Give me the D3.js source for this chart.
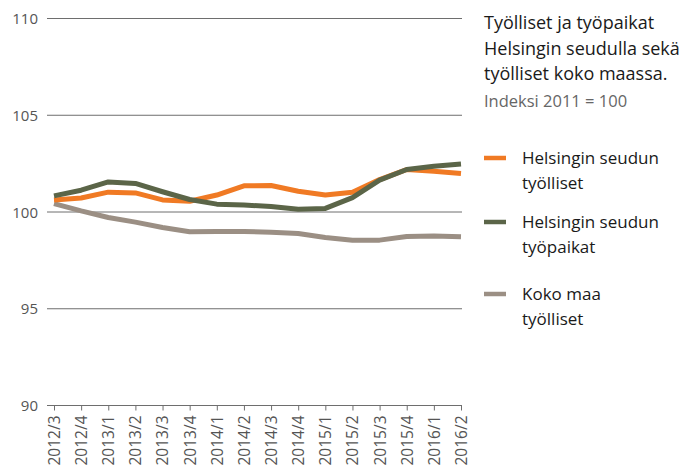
<!DOCTYPE html>
<html>
<head>
<meta charset="utf-8">
<script src="https://cdn.jsdelivr.net/npm/d3@7"></script>
<style>
  body { margin: 0; background: #fff; }
  svg text { font-family: "Open Sans", "Noto Sans", sans-serif; }
</style>
</head>
<body>
<div id="chart"></div>
<script>
// Data
var quarters = ["2012/3", "2012/4", "2013/1", "2013/2", "2013/3", "2013/4",
  "2014/1", "2014/2", "2014/3", "2014/4", "2015/1", "2015/2", "2015/3", "2015/4",
  "2016/1", "2016/2"];

var helsinkiEmployed = [100.6, 100.7, 101.0, 100.96, 100.6, 100.53, 100.85, 101.33,
  101.34, 101.05, 100.85, 101.0, 101.65, 102.17, 102.08, 101.96];
var helsinkiJobs = [100.81, 101.1, 101.53, 101.45, 101.02, 100.62, 100.38, 100.33,
  100.26, 100.12, 100.16, 100.72, 101.62, 102.17, 102.34, 102.45];
var wholeCountryEmployed = [100.41, 100.03, 99.69, 99.45, 99.17, 98.95, 98.97, 98.97,
  98.93, 98.86, 98.66, 98.52, 98.52, 98.71, 98.74, 98.69];

var yTicks = [90, 95, 100, 105, 110];

var seriesNames = [["Helsingin seudun", "työlliset"], ["Helsingin seudun", "työpaikat"], ["Koko maa", "työlliset"]];
var seriesColors = ["#f07a24", "#5b6548", "#9b8f84"];

var svgWidth = 680;
var svgHeight = 468;

var svg = d3.select("#chart")
  .append("svg")
  .attr("width", svgWidth)
  .attr("height", svgHeight);

// Scales
var xScale = d3.scalePoint()
  .domain(quarters)
  .range([54, 461]);

var yScale = d3.scaleLinear()
  .domain([90, 110])
  .range([405, 18]);

// Gridlines
svg.append("g")
  .selectAll("line")
  .data(yTicks)
  .enter()
  .append("line")
  .attr("x1", 47)
  .attr("x2", 462)
  .attr("y1", d => yScale(d) + 0.5)
  .attr("y2", d => yScale(d) + 0.5)
  .attr("stroke", "#6e6e6e")
  .attr("stroke-width", 1);

// Y labels
svg.append("g")
  .selectAll("text")
  .data(yTicks)
  .enter()
  .append("text")
  .attr("x", 38)
  .attr("y", d => yScale(d) + 6)
  .attr("text-anchor", "end")
  .attr("font-size", 15)
  .attr("fill", "#555")
  .text(d => d);

// X axis
var bottomAxis = d3.axisBottom(xScale).tickSize(5).tickPadding(4);
var xAxis = svg.append("g")
  .attr("transform", `translate(0, ${yScale(90) + 0.5})`)
  .call(bottomAxis);
xAxis.select(".domain").remove();
xAxis.selectAll("line").attr("stroke", "#6e6e6e");
xAxis.selectAll("text")
  .attr("font-size", 15.5)
  .attr("fill", "#555")
  .attr("transform", "rotate(-90)")
  .attr("text-anchor", "end")
  .attr("x", -10)
  .attr("y", 0)
  .attr("dy", "0.35em");

// Lines
var allSeries = [helsinkiEmployed, helsinkiJobs, wholeCountryEmployed];
var line = d3.line()
  .x((d, i) => xScale(quarters[i]))
  .y(d => yScale(d));

// gray first, then orange, green on top
[2, 0, 1].forEach(function(k) {
  svg.append("path")
    .datum(allSeries[k])
    .attr("d", line)
    .attr("fill", "none")
    .attr("stroke", seriesColors[k])
    .attr("stroke-width", 5)
    .attr("stroke-linejoin", "round");
});

// Title
var titleLines = ["Työlliset ja työpaikat", "Helsingin seudulla sekä", "työlliset koko maassa."];
svg.append("g")
  .selectAll("text")
  .data(titleLines)
  .enter()
  .append("text")
  .attr("x", 484)
  .attr("y", (d, i) => 29 + i * 25.5)
  .attr("font-size", 18)
  .attr("fill", "#1a1a1a")
  .text(d => d);

svg.append("text")
  .attr("x", 484)
  .attr("y", 107)
  .attr("font-size", 16.5)
  .attr("fill", "#666")
  .text("Indeksi 2011 = 100");

// Legend
var legendY = [158, 222, 294];
var legend = svg.append("g")
  .selectAll("g")
  .data(seriesNames)
  .enter()
  .append("g")
  .attr("transform", (d, i) => `translate(484, ${legendY[i]})`);

legend.append("line")
  .attr("x1", 0)
  .attr("x2", 22)
  .attr("stroke", (d, i) => seriesColors[i])
  .attr("stroke-width", 4.5);

legend.selectAll("text")
  .data(d => d)
  .enter()
  .append("text")
  .attr("x", 38)
  .attr("y", (d, j) => 6 + j * 25)
  .attr("font-size", 17)
  .attr("fill", "#1a1a1a")
  .text(d => d);
</script>
</body>
</html>
